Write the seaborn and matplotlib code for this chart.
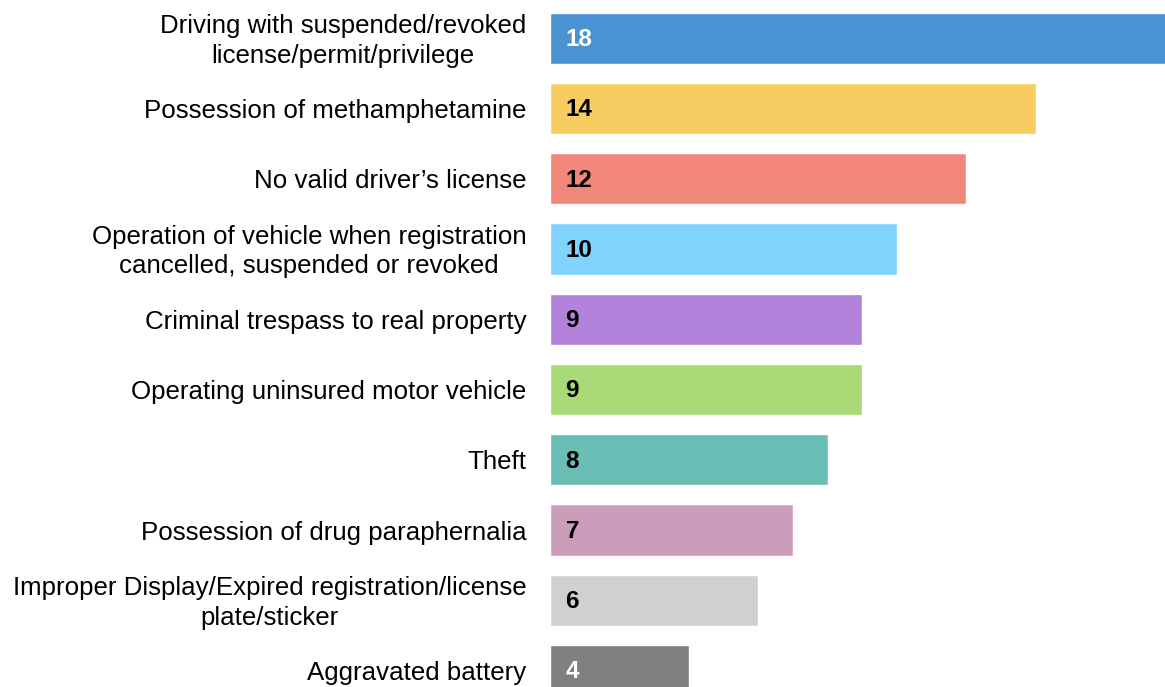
import matplotlib
matplotlib.use("Agg")
import matplotlib.pyplot as plt
import seaborn as sns
import pandas as pd

# offence categories and counts
offences = [
    "Driving with suspended/revoked\nlicense/permit/privilege",
    "Possession of methamphetamine",
    "No valid driver\u2019s license",
    "Operation of vehicle when registration\ncancelled, suspended or revoked",
    "Criminal trespass to real property",
    "Operating uninsured motor vehicle",
    "Theft",
    "Possession of drug paraphernalia",
    "Improper Display/Expired registration/license\nplate/sticker",
    "Aggravated battery",
]
counts = [18, 14, 12, 10, 9, 9, 8, 7, 6, 4]
bar_colors = ["#4A92D2", "#F7CD62", "#F0877A", "#80D3FD", "#B282DC",
              "#A9DA77", "#6BBEB6", "#CC9DBB", "#D1D0D1", "#808080"]
label_colors = ["white", "black", "black", "black", "black",
                "black", "black", "black", "black", "white"]

df = pd.DataFrame({"offence": offences, "count": counts})

sns.set_style("white")
plt.rcParams["font.family"] = ["Liberation Sans", "DejaVu Sans"]

fig = plt.figure(figsize=(11.65, 6.87), dpi=100)
ax = fig.add_axes([550 / 1165, 0, 615 / 1165, 1])

sns.barplot(data=df, y="offence", x="count", hue="offence",
            palette=bar_colors, orient="h", width=0.73,
            legend=False, ax=ax, saturation=1)

ax.set_xlim(0, 615 / 34.7)
ax.set_ylim(9.236, -0.544)

for i, (v, c) in enumerate(zip(counts, label_colors)):
    ax.text(0.45, i + 0.02, str(v), color=c, fontsize=17.5, fontweight="bold",
            va="center", ha="left")

ax.set_xlabel("")
ax.set_ylabel("")
ax.set_xticks([])
# nudge the category labels a touch below bar centre, as in the original
ax.set_yticks([i + 0.038 for i in range(len(offences))], offences)
ax.tick_params(axis="y", length=0, pad=17, labelsize=18.65, labelcolor="black")
for lbl in ax.get_yticklabels():
    lbl.set_multialignment("center")
    lbl.set_linespacing(1.3)
    lbl.set_verticalalignment("center")
sns.despine(ax=ax, left=True, bottom=True)

fig.savefig("out.png", dpi=100)
